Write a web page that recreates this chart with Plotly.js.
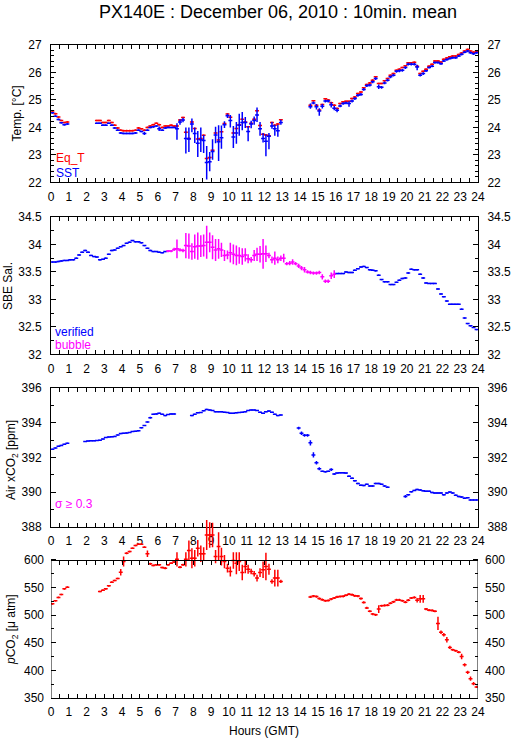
<!DOCTYPE html>
<html>
<head>
<meta charset="utf-8">
<script src="https://cdn.plot.ly/plotly-3.0.1.min.js"></script>
<style>html,body{margin:0;padding:0;background:#fff;}#chart{width:515px;height:739px;}</style>
</head>
<body>
<div id="chart"></div>
<script>
// ---- time grid (10-minute means, hour of day GMT) ----
const hours = [
 0.08,0.25,0.42,0.58,0.75,0.92, 1.08,1.25,1.42,1.58,1.75,1.92,
 2.08,2.25,2.42,2.58,2.75,2.92, 3.08,3.25,3.42,3.58,3.75,3.92,
 4.08,4.25,4.42,4.58,4.75,4.92, 5.08,5.25,5.42,5.58,5.75,5.92,
 6.08,6.25,6.42,6.58,6.75,6.92, 7.08,7.25,7.42,7.58,7.75,7.92,
 8.08,8.25,8.42,8.58,8.75,8.92, 9.08,9.25,9.42,9.58,9.75,9.92,
 10.08,10.25,10.42,10.58,10.75,10.92, 11.08,11.25,11.42,11.58,11.75,11.92,
 12.08,12.25,12.42,12.58,12.75,12.92, 13.08,13.25,13.42,13.58,13.75,13.92,
 14.08,14.25,14.42,14.58,14.75,14.92, 15.08,15.25,15.42,15.58,15.75,15.92,
 16.08,16.25,16.42,16.58,16.75,16.92, 17.08,17.25,17.42,17.58,17.75,17.92,
 18.08,18.25,18.42,18.58,18.75,18.92, 19.08,19.25,19.42,19.58,19.75,19.92,
 20.08,20.25,20.42,20.58,20.75,20.92, 21.08,21.25,21.42,21.58,21.75,21.92,
 22.08,22.25,22.42,22.58,22.75,22.92, 23.08,23.25,23.42,23.58,23.75,23.92
];
const N = null;

// ---- Panel 1: temperatures [°C] ----
const eqT = [
 24.6,24.5,24.38,24.25,24.18,24.2,  N,N,N,N,N,N,
 N,N,N,24.25,24.25,24.18,  24.18,24.25,24.18,24.08,23.98,23.9,
 23.88,23.88,23.88,23.88,23.9,23.98,  23.95,23.9,24.0,24.05,24.1,24.15,
 24.1,24.0,24.05,24.05,24.08,24.05,  24.05,24.27,24.36,23.82,23.6,24.2,
 23.96,23.58,23.6,23.71,22.87,22.9,  23.17,23.8,23.54,23.84,24.14,24.49,
 24.37,23.8,23.96,24.1,24.3,24.2,  24.02,24.15,24.3,24.61,24.07,23.75,
 23.72,23.7,24.18,24.08,24.12,24.28,  N,N,N,N,N,N,
 N,N,N,24.81,24.97,24.81,  24.63,24.83,25.04,25.0,24.9,24.81,
 24.69,24.87,24.93,24.95,24.95,25.05,  25.11,25.23,25.29,25.44,25.56,25.62,
 25.72,25.84,25.6,25.6,25.7,25.78,  25.9,25.96,26.08,26.12,26.18,26.24,
 26.35,26.35,26.37,26.23,25.96,26.04,  26.12,26.23,26.3,26.42,26.42,26.38,
 26.48,26.53,26.57,26.6,26.6,26.65,  26.71,26.78,26.84,26.78,26.74,26.77
];
const sst = [
 24.53,24.41,24.29,24.17,24.1,24.12,  N,N,N,N,N,N,
 N,N,N,24.15,24.15,24.08,  24.08,24.15,24.08,23.98,23.9,23.8,
 23.78,23.78,23.78,23.78,23.8,23.9,  23.85,23.78,23.9,24.0,24.02,24.05,
 23.95,23.9,23.98,24.0,24.0,24.0,  23.95,24.2,24.27,23.6,23.58,24.12,
 23.78,23.42,23.55,23.52,22.72,22.75,  23.12,23.72,23.48,23.62,24.1,24.42,
 24.25,23.65,23.8,24.08,24.18,24.18,  23.85,24.12,24.25,24.45,23.95,23.6,
 23.5,23.68,24.05,23.95,23.88,24.18,  N,N,N,N,N,N,
 N,N,N,24.75,24.89,24.75,  24.6,24.77,24.96,24.96,24.82,24.7,
 24.62,24.78,24.87,24.89,24.87,24.96,  25.05,25.17,25.2,25.38,25.52,25.54,
 25.66,25.78,25.48,25.46,25.62,25.72,  25.84,25.9,26.04,26.06,26.08,26.18,
 26.3,26.3,26.3,26.2,25.9,25.96,  26.06,26.18,26.23,26.36,26.36,26.32,
 26.42,26.47,26.51,26.54,26.54,26.6,  26.66,26.74,26.78,26.72,26.68,26.72
];
const sstErrUp = [
 .03,.03,.03,.03,.03,.03,  N,N,N,N,N,N,
 N,N,N,.03,.03,.03,  .03,.03,.03,.03,.03,.03,
 .03,.03,.03,.03,.03,.03,  .03,.06,.03,.03,.03,.03,
 .08,.03,.03,.03,.03,.03,  .2,.1,.08,.4,.42,.2,
 .22,.45,.45,.2,.6,.35,  .45,.3,.6,.45,.12,.08,
 .2,.4,.4,.42,.38,.2,  .2,.12,.15,.27,.25,.2,
 .25,.12,.15,.15,.22,.1,  N,N,N,N,N,N,
 N,N,N,.12,.05,.1,  .1,.08,.05,.05,.1,.08,
 .07,.05,.05,.05,.08,.05,  .05,.05,.05,.05,.05,.05,
 .05,.05,.08,.05,.05,.05,  .05,.05,.05,.05,.05,.05,
 .05,.05,.05,.08,.05,.05,  .04,.04,.04,.04,.04,.04,
 .04,.04,.04,.04,.04,.04,  .04,.04,.04,.04,.04,.04
];
const sstErrDown = [
 .03,.03,.03,.03,.03,.03,  N,N,N,N,N,N,
 N,N,N,.03,.03,.03,  .03,.03,.03,.03,.03,.03,
 .03,.03,.03,.03,.03,.03,  .03,.06,.03,.03,.03,.03,
 .08,.03,.03,.03,.03,.03,  .4,.1,.08,.55,.48,.3,
 .35,.5,.45,.45,.62,.35,  .3,.3,.7,.4,.12,.08,
 .25,.4,.4,.38,.28,.2,  .35,.15,.15,.25,.25,.15,
 .55,.48,.1,.25,.22,.08,  N,N,N,N,N,N,
 N,N,N,.07,.05,.1,  .18,.08,.05,.05,.1,.08,
 .07,.05,.05,.05,.12,.05,  .05,.05,.05,.05,.05,.05,
 .05,.05,.08,.05,.05,.05,  .05,.05,.05,.05,.05,.05,
 .05,.05,.05,.12,.05,.05,  .04,.04,.04,.04,.04,.04,
 .04,.04,.04,.04,.04,.04,  .04,.04,.04,.04,.04,.04
];

// ---- Panel 2: SBE salinity ----
const salVerified = [
 33.68,33.68,33.69,33.7,33.71,33.71,  33.72,33.72,33.75,33.81,33.86,33.89,
 33.86,33.8,33.78,33.77,33.72,33.73,  33.75,33.82,33.89,33.9,33.93,33.96,
 33.98,34.02,34.04,34.07,34.05,34.05,  34.03,33.98,33.93,33.89,33.87,33.87,
 33.86,33.85,33.87,N,N,N,  N,N,N,N,N,N,
 N,N,N,N,N,N,  N,N,N,N,N,N,
 N,N,N,N,N,N,  N,N,N,N,N,N,
 N,N,N,N,N,N,  N,N,N,N,N,N,
 N,N,N,N,N,N,  N,N,N,N,N,N,
 33.47,33.47,33.47,33.5,33.49,33.49,  33.53,33.56,33.59,33.6,33.58,33.54,
 33.53,33.52,33.44,33.36,33.32,33.32,  33.27,33.27,33.31,33.35,33.38,33.39,
 33.48,33.55,33.54,33.54,33.46,33.39,  33.3,33.29,33.29,33.29,33.19,33.1,
 33.05,32.97,32.91,32.91,32.91,32.91,  32.82,32.66,32.56,32.52,32.49,32.45
];
const salBubble = [
 N,N,N,N,N,N,  N,N,N,N,N,N,
 N,N,N,N,N,N,  N,N,N,N,N,N,
 N,N,N,N,N,N,  N,N,N,N,N,N,
 N,N,N,33.88,33.88,33.91,  33.92,33.9,33.89,33.98,33.97,33.87,
 33.96,33.97,33.97,33.98,34.04,34.04,  33.95,33.9,33.92,33.9,33.8,33.81,
 33.85,33.82,33.8,33.8,33.78,33.81,  33.74,33.72,33.8,33.82,33.82,33.83,
 33.83,33.8,33.72,33.75,33.72,33.75,  33.75,33.65,33.66,33.68,33.65,33.61,
 33.57,33.54,33.5,33.49,33.48,33.48,  33.49,33.41,33.33,33.33,33.43,33.46,
 N,N,N,N,N,N,  N,N,N,N,N,N,
 N,N,N,N,N,N,  N,N,N,N,N,N,
 N,N,N,N,N,N,  N,N,N,N,N,N,
 N,N,N,N,N,N,  N,N,N,N,N,N
];
const salBubbleErr = [
 N,N,N,N,N,N,  N,N,N,N,N,N,
 N,N,N,N,N,N,  N,N,N,N,N,N,
 N,N,N,N,N,N,  N,N,N,N,N,N,
 N,N,N,.02,.02,.03,  .17,.03,.03,.23,.23,.15,
 .22,.25,.2,.2,.3,.18,  .22,.2,.18,.13,.1,.08,
 .18,.18,.18,.15,.15,.12,  .08,.05,.1,.12,.15,.27,
 .15,.05,.06,.12,.06,.05,  .08,.03,.04,.05,.03,.04,
 .04,.05,.03,.03,.03,.03,  .03,.05,.03,.03,.06,.07,
 N,N,N,N,N,N,  N,N,N,N,N,N,
 N,N,N,N,N,N,  N,N,N,N,N,N,
 N,N,N,N,N,N,  N,N,N,N,N,N,
 N,N,N,N,N,N,  N,N,N,N,N,N
];

// ---- Panel 3: Air xCO2 [ppm] ----
const airXco2 = [
 392.48,392.55,392.65,392.7,392.76,392.82,  N,N,N,N,N,392.93,
 392.95,392.97,392.97,392.98,393.0,393.07,  393.15,393.18,393.2,393.22,393.3,393.38,
 393.4,393.42,393.45,393.5,393.52,393.55,  393.72,393.85,394.05,394.3,394.5,394.52,
 394.55,394.5,394.42,394.48,394.52,394.52,  N,N,N,N,N,394.42,
 394.5,394.58,394.6,394.7,394.78,394.75,  394.72,394.65,394.65,394.65,394.62,394.6,
 394.55,394.55,394.58,394.6,394.62,394.65,  394.72,394.75,394.75,394.72,394.62,394.55,
 394.65,394.68,394.62,394.5,394.42,394.45,  N,N,N,N,N,393.7,
 393.4,393.28,393.28,392.85,392.15,391.7,  391.35,391.2,391.18,391.2,391.3,391.05,
 391.1,391.12,391.12,391.1,390.92,390.8,  390.65,390.5,390.4,390.38,390.45,390.35,
 390.35,390.5,390.5,390.45,390.35,390.28,  N,N,N,N,N,389.75,
 389.85,390.02,390.1,390.15,390.12,390.08,  390.05,390.05,389.98,389.95,389.95,389.95,
 389.85,389.95,390.0,389.95,389.82,389.75,  389.72,389.65,389.68,389.55,389.55,389.55
];
const airXco2Err = [
 .03,.03,.03,.03,.03,.03,  N,N,N,N,N,.03,
 .03,.03,.03,.03,.03,.03,  .03,.03,.03,.03,.03,.03,
 .03,.03,.03,.03,.03,.03,  .03,.03,.03,.05,.03,.03,
 .03,.03,.03,.03,.03,.03,  N,N,N,N,N,.03,
 .03,.03,.03,.03,.03,.03,  .03,.03,.03,.03,.03,.03,
 .03,.03,.03,.03,.03,.03,  .03,.03,.03,.03,.03,.03,
 .03,.03,.03,.03,.03,.03,  N,N,N,N,N,.08,
 .1,.08,.08,.15,.15,.1,  .08,.04,.04,.04,.08,.04,
 .04,.04,.04,.04,.04,.04,  .04,.04,.04,.04,.04,.04,
 .04,.04,.04,.04,.04,.04,  N,N,N,N,N,.08,
 .04,.04,.04,.04,.04,.04,  .04,.04,.04,.04,.04,.04,
 .04,.04,.04,.04,.04,.04,  .04,.04,.04,.04,.04,.04
];

// ---- Panel 4: pCO2 [μatm] ----
const pco2 = [
 520.5,526,532,537.3,547.6,550.6,  N,N,N,N,N,N,
 N,N,N,N,542.8,545.2,  547.6,553,559.6,562.7,566.3,577.7,
 597,612,615,621,626,628.3,  628.3,623,611,592.8,590,591,
 591,586,585,591,594,596,  601,586.7,591,601,617,603,
 603,621,611,611,645,645,  645,606,624,606,597,585,
 579,599,594,597,577,588,  583,579,575,567,577,582,
 588,583,561,567,567,561,  N,N,N,N,N,N,
 N,N,N,533,534.5,533.5,  530,528,526,526.5,529,531,
 533,533.7,534,536,538,537,  535,534.5,530,523,513,507,
 502,500.5,511,517,517.5,518,  521.5,524,527.5,527.5,526,523.5,
 527,531,532,527,529.5,529.5,  511,509,508.5,507,485,469,
 464.5,455.4,441.6,437.3,435.5,433,  425,410,396.4,385,376,370
];
const pco2Err = [
 1.5,1.5,1.5,1.5,1.5,1.5,  N,N,N,N,N,N,
 N,N,N,N,1.5,1.5,  1.5,1.5,1.5,1.5,1.5,6,
 9,2,1.5,1.5,1.5,1.5,  1.5,1.5,6,2,1.5,1.5,
 1.5,1.5,2,1.5,1.5,1.5,  13,2,2,13,18,18,
 15,15,15,12,27,23,  22,12,26,16,12,8,
 9,15,20,17,14,12,  8,5,5,6,8,15,
 25,10,4,15,15,3,  N,N,N,N,N,N,
 N,N,N,2,2,2,  2,2,2,2,2,2,
 2,2,2,2,2,2,  2,2,2,2,2,2,
 2,2,7,2,2,2,  2,2,2,2,2,2,
 2,2,2,4,7,7,  2,2,2,2,12,3,
 3,5,3,2,2,2,  5,3,3,4,3,2
];

// ---- tick labels ----
const hourTicks = [0,1,2,3,4,5,6,7,8,9,10,11,12,13,14,15,16,17,18,19,20,21,22,23,24];
const pco2Ticks = [350,400,450,500,550,600];
const pco2Minor = [375,425,475,525,575];

// ---- styling ----
const FONT = 'Liberation Sans, Arial, Helvetica, sans-serif';
const RED = '#ff0000', BLUE = '#0000ff', MAG = '#ff00ff';
const HALF = 0.11;   // half width of a 10-minute cross, hours
const TH = 1.5;

function cross(y, color, xa, ya, ey) {
  return {
    type: 'scatter', mode: 'markers', x: hours, y: y, xaxis: xa, yaxis: ya,
    marker: {size: 1, color: color}, hoverinfo: 'skip', showlegend: false,
    error_x: {type: 'constant', value: HALF, width: 0, thickness: TH, color: color},
    error_y: Object.assign({width: 0, thickness: TH, color: color}, ey)
  };
}

const traces = [
  cross(eqT, RED, 'x', 'y', {type: 'constant', value: 0.03}),
  cross(sst, BLUE, 'x', 'y', {type: 'data', array: sstErrUp, arrayminus: sstErrDown, symmetric: false}),
  cross(salVerified, BLUE, 'x2', 'y2', {type: 'constant', value: 0.012}),
  cross(salBubble, MAG, 'x2', 'y2', {type: 'data', array: salBubbleErr}),
  cross(airXco2, BLUE, 'x3', 'y3', {type: 'data', array: airXco2Err}),
  cross(pco2, RED, 'x4', 'y4', {type: 'data', array: pco2Err})
];
// axis carriers (no marks) for the right-hand scales and the top edge of panel 4
[['x','y5'],['x2','y6'],['x3','y7'],['x4','y8'],['x5','y4']].forEach(function(p){
  traces.push({type:'scatter', mode:'markers', x:[null], y:[null], xaxis:p[0], yaxis:p[1], showlegend:false, hoverinfo:'skip'});
});

const tickFont = {family: FONT, size: 12, color: '#000'};
function xAxis(anchor, mirror) {
  return {
    range: [0, 24], tickmode: 'array', tickvals: hourTicks, ticks: 'inside', ticklen: 4,
    tickwidth: 1, tickcolor: '#000', showline: true, linecolor: '#000', linewidth: 1,
    mirror: mirror, showgrid: false, zeroline: false, tickfont: tickFont, anchor: anchor,
    ticklabelstandoff: 3,
    minor: {dtick: 0.5, tick0: 0, ticks: 'inside', ticklen: 4, tickcolor: '#000', showgrid: false},
    fixedrange: true
  };
}
function yAxis(domain, range, dtick, minorDtick, side, anchor, overlay, showline) {
  const a = {
    domain: domain, range: range, tickmode: 'linear', tick0: range[0], dtick: dtick,
    ticks: 'inside', ticklen: 5, tickwidth: 1, tickcolor: '#000',
    showline: showline, linecolor: '#000', linewidth: 1, mirror: false,
    showgrid: false, zeroline: false, tickfont: tickFont, side: side, anchor: anchor,
    ticklabelstandoff: 6,
    minor: {dtick: minorDtick, ticks: 'inside', ticklen: 3, tickcolor: '#000', showgrid: false},
    fixedrange: true
  };
  if (overlay) a.overlaying = overlay;
  return a;
}
function yPco2(side, anchor, overlay) {
  const a = {
    domain: [0, 0.2792], range: [350, 680], tickmode: 'array', tickvals: pco2Ticks,
    ticks: 'inside', ticklen: 5, tickwidth: 1, tickcolor: '#000', showline: false,
    showgrid: false, zeroline: false, tickfont: tickFont, side: side, anchor: anchor,
    ticklabelstandoff: 6,
    minor: {tickvals: pco2Minor, ticks: 'inside', ticklen: 3, tickcolor: '#000', showgrid: false},
    fixedrange: true
  };
  if (overlay) a.overlaying = overlay;
  return a;
}

const D1 = [0.7897, 1.0], D2 = [0.5263, 0.7366], D3 = [0.2623, 0.4743];

const layout = {
  width: 515, height: 739,
  margin: {l: 51, r: 37, t: 45, b: 41, pad: 0},
  paper_bgcolor: '#ffffff', plot_bgcolor: 'rgba(0,0,0,0)',
  showlegend: false,
  font: {family: FONT, size: 12, color: '#000'},
  title: {text: 'PX140E : December 06, 2010 : 10min. mean', font: {family: FONT, size: 18, color: '#000'},
          xref: 'paper', x: 0.5316, xanchor: 'center', yref: 'container', y: 0.984, yanchor: 'middle'},
  xaxis: xAxis('y', 'ticks'),
  xaxis2: xAxis('y2', 'ticks'),
  xaxis3: xAxis('y3', 'ticks'),
  xaxis4: xAxis('y4', false),
  xaxis5: Object.assign(xAxis('free', false), {overlaying: 'x4', anchor: 'free', position: 0.21152, side: 'top', showticklabels: false}),
  yaxis:  yAxis(D1, [22, 27], 1, 0.2, 'left', 'x', null, true),
  yaxis2: yAxis(D2, [32, 34.5], 0.5, 0.25, 'left', 'x2', null, true),
  yaxis3: yAxis(D3, [388, 396], 2, 1, 'left', 'x3', null, true),
  yaxis4: yPco2('left', 'x4', null),
  yaxis5: yAxis(D1, [22, 27], 1, 0.2, 'right', 'x', 'y', true),
  yaxis6: yAxis(D2, [32, 34.5], 0.5, 0.25, 'right', 'x2', 'y2', true),
  yaxis7: yAxis(D3, [388, 396], 2, 1, 'right', 'x3', 'y3', true),
  yaxis8: yPco2('right', 'x4', 'y4'),
  shapes: [
    {type: 'line', xref: 'x4', yref: 'y4', x0: 0, x1: 0, y0: 350, y1: 600, line: {color: '#000', width: 1}},
    {type: 'line', xref: 'x4', yref: 'y4', x0: 24, x1: 24, y0: 350, y1: 600, line: {color: '#000', width: 1}}
  ],
  annotations: [
    {text: 'Eq_T', font: {family: FONT, size: 12, color: RED}, xref: 'paper', yref: 'paper', x: 0.007, y: 0.8262, xanchor: 'left', yanchor: 'middle', showarrow: false},
    {text: 'SST', font: {family: FONT, size: 12, color: BLUE}, xref: 'paper', yref: 'paper', x: 0.007, y: 0.804, xanchor: 'left', yanchor: 'middle', showarrow: false},
    {text: 'verified', font: {family: FONT, size: 12, color: BLUE}, xref: 'paper', yref: 'paper', x: 0.004, y: 0.5605, xanchor: 'left', yanchor: 'middle', showarrow: false},
    {text: 'bubble', font: {family: FONT, size: 12, color: MAG}, xref: 'paper', yref: 'paper', x: 0.004, y: 0.5406, xanchor: 'left', yanchor: 'middle', showarrow: false},
    {text: 'σ ≥ 0.3', font: {family: FONT, size: 12, color: MAG}, xref: 'paper', yref: 'paper', x: 0.004, y: 0.2971, xanchor: 'left', yanchor: 'middle', showarrow: false},
    {text: 'Temp. [°C]', textangle: -90, font: {family: FONT, size: 12}, xref: 'paper', yref: 'paper', x: -0.0773, y: 0.8951, xanchor: 'center', yanchor: 'middle', showarrow: false},
    {text: 'SBE Sal.', textangle: -90, font: {family: FONT, size: 12}, xref: 'paper', yref: 'paper', x: -0.1007, y: 0.6309, xanchor: 'center', yanchor: 'middle', showarrow: false},
    {text: 'Air xCO<sub>2</sub> [ppm]', textangle: -90, font: {family: FONT, size: 12}, xref: 'paper', yref: 'paper', x: -0.0913, y: 0.3645, xanchor: 'center', yanchor: 'middle', showarrow: false},
    {text: '<i>p</i>CO<sub>2</sub> [μ atm]', textangle: -90, font: {family: FONT, size: 12}, xref: 'paper', yref: 'paper', x: -0.0913, y: 0.1041, xanchor: 'center', yanchor: 'middle', showarrow: false},
    {text: 'Hours (GMT)', font: {family: FONT, size: 12}, xref: 'paper', yref: 'paper', x: 0.4988, y: -0.0505, xanchor: 'center', yanchor: 'middle', showarrow: false}
  ]
};

Plotly.newPlot('chart', traces, layout, {staticPlot: true, displayModeBar: false});
</script>
</body>
</html>
